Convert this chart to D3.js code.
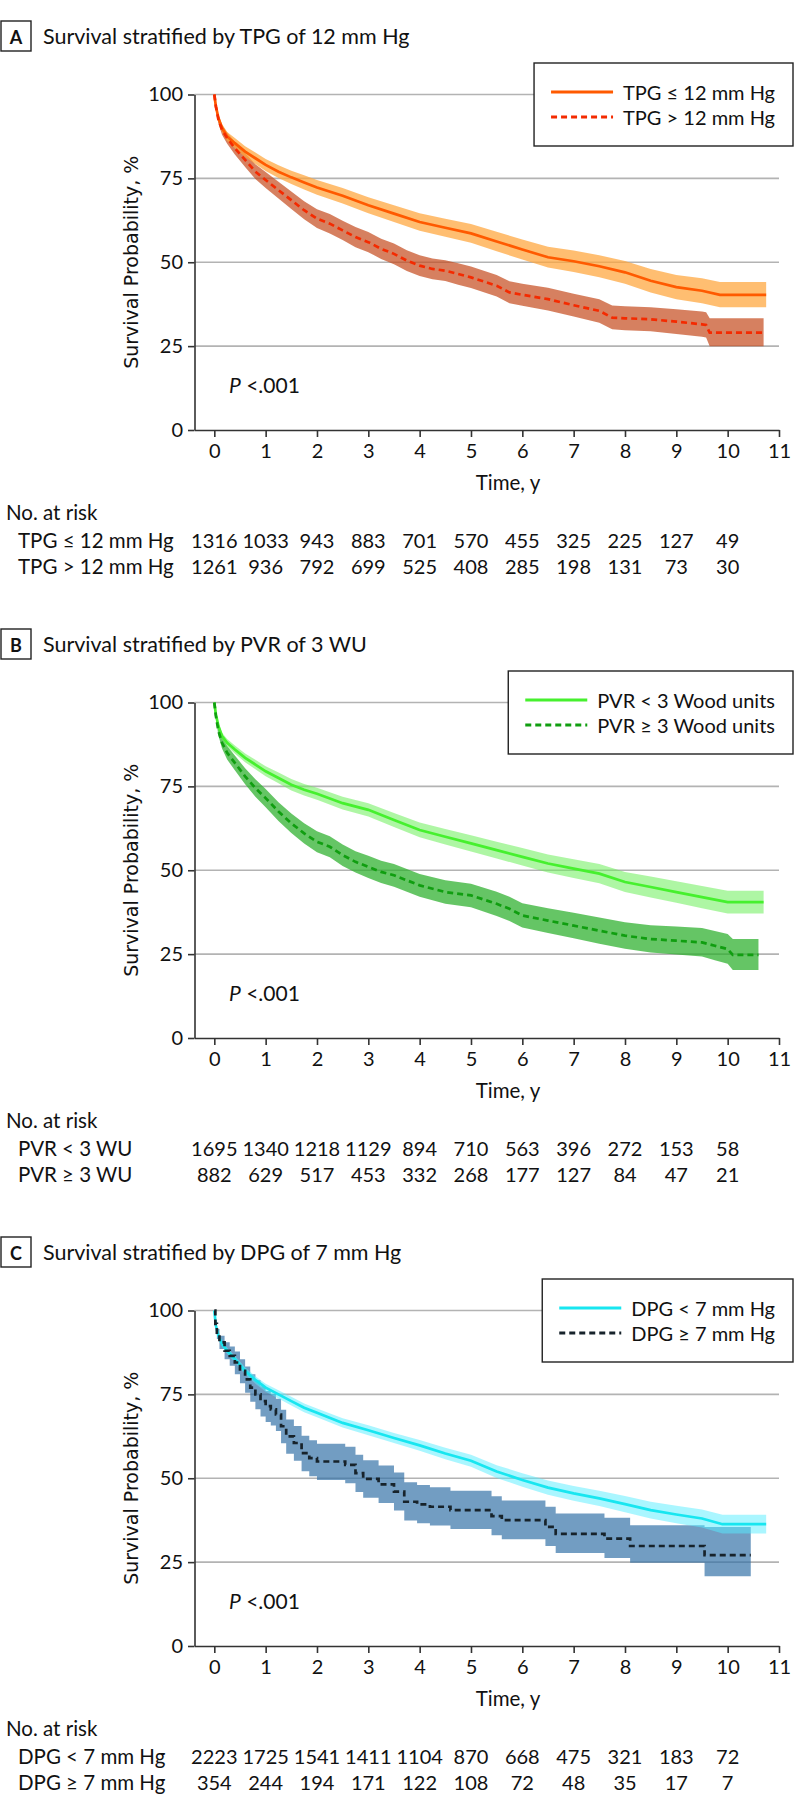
<!DOCTYPE html>
<html><head><meta charset="utf-8">
<script src="https://cdn.jsdelivr.net/npm/d3@7"></script>
<style>
body{margin:0;background:#fff}
svg{display:block}
text{fill:#111}
</style>
</head><body>
<svg id="chart" width="794" height="1812"></svg>
<script>
// ---------- DATA ----------
const xTicks = [0,1,2,3,4,5,6,7,8,9,10,11];
const yTicks = [0,25,50,75,100];
const riskTimes = [0,1,2,3,4,5,6,7,8,9,10];

const panelLetters = ["A","B","C"];
const panelTitles = [
  "Survival stratified by TPG of 12 mm Hg",
  "Survival stratified by PVR of 3 WU",
  "Survival stratified by DPG of 7 mm Hg"
];
const legendLabels = [
  ["TPG \u2264 12 mm Hg","TPG > 12 mm Hg"],
  ["PVR < 3 Wood units","PVR \u2265 3 Wood units"],
  ["DPG < 7 mm Hg","DPG \u2265 7 mm Hg"]
];
const riskLabels = [
  ["TPG \u2264 12 mm Hg","TPG > 12 mm Hg"],
  ["PVR < 3 WU","PVR \u2265 3 WU"],
  ["DPG < 7 mm Hg","DPG \u2265 7 mm Hg"]
];
const riskTPGlow  = [1316,1033,943,883,701,570,455,325,225,127,49];
const riskTPGhigh = [1261,936,792,699,525,408,285,198,131,73,30];
const riskPVRlow  = [1695,1340,1218,1129,894,710,563,396,272,153,58];
const riskPVRhigh = [882,629,517,453,332,268,177,127,84,47,21];
const riskDPGlow  = [2223,1725,1541,1411,1104,870,668,475,321,183,72];
const riskDPGhigh = [354,244,194,171,122,108,72,48,35,17,7];
const pValues = ["<.001","<.001","<.001"];

// [time (y), survival %, lower CI %, upper CI %]
const kmTPGlow = [
[0,100,100,100],[0.03,96.5,95.8,97.2],[0.08,93,92,94],[0.15,90,88.8,91.2],[0.25,87.5,86.2,88.8],
[0.4,85.5,84,87],[0.6,83,81.4,84.6],[0.8,81,79.3,82.7],[1.0,79,77.2,80.8],[1.25,77,75.1,78.9],
[1.5,75.3,73.3,77.3],[1.75,73.8,71.7,75.9],[2.0,72.3,70.1,74.5],[2.5,69.8,67.5,72.1],[3.0,67,64.6,69.4],
[3.5,64.5,62,67],[4.0,62,59.4,64.6],[4.5,60.3,57.6,63],[5.0,58.6,55.8,61.4],[5.5,56.2,53.3,59.1],
[6.0,53.8,50.8,56.8],[6.5,51.5,48.4,54.6],[7.0,50.3,47.1,53.5],[7.5,48.8,45.5,52.1],[8.0,47,43.6,50.4],
[8.5,44.5,41,48],[9.0,42.6,39,46.2],[9.5,41.5,37.8,45.2],[9.85,40.3,36.6,44.1],[10.75,40.3,36.6,44.1]
];
const kmTPGhigh = [
[0,100,100,100],[0.03,96.5,95.7,97.3],[0.08,92.5,91.3,93.7],[0.15,89.5,88,91],[0.25,87,85.3,88.7],
[0.4,84,82.1,85.9],[0.6,80.5,78.4,82.6],[0.8,77,74.8,79.2],[1.0,74.5,72.1,76.9],[1.25,71.5,69,74],
[1.5,68.5,65.9,71.1],[1.75,65.5,62.8,68.2],[2.0,63,60.2,65.8],[2.25,61.5,58.6,64.4],[2.5,59.5,56.6,62.4],
[2.75,57.5,54.5,60.5],[3.0,56,53,59],[3.25,54,51,57],[3.5,52.5,49.4,55.6],[3.75,50.5,47.4,53.6],
[4.0,49,45.9,52.1],[4.25,48,44.9,51.1],[4.5,47.5,44.4,50.6],[4.75,46.5,43.3,49.7],[5.0,45.5,42.3,48.7],
[5.5,43,39.8,46.2],[5.75,41,37.8,44.3],[6.0,40.3,37,43.6],[6.5,39,35.6,42.4],[7.0,37.2,33.8,40.6],
[7.5,35.5,32,39],[7.75,33.5,30,37.1],[8.0,33.3,29.7,36.9],[8.5,33,29.4,36.6],[9.0,32.3,28.6,36],
[9.5,31.5,27.8,35.3],[9.58,31.3,27.6,35.1],[9.65,29,25,33.3],[10.7,29,25,33.3]
];
const kmPVRlow = [
[0,100,100,100],[0.03,96.5,95.9,97.1],[0.08,93,92.2,93.8],[0.15,90,89,91],[0.25,88,86.9,89.1],
[0.4,86,84.8,87.2],[0.6,83.5,82.2,84.8],[0.8,81.5,80.1,82.9],[1.0,79.5,78,81],[1.25,77.5,75.9,79.1],
[1.5,75.5,73.8,77.2],[1.75,74,72.3,75.7],[2.0,72.8,71,74.6],[2.5,70,68.1,71.9],[3.0,68,66,70],
[3.5,65,62.9,67.1],[4.0,62,59.8,64.2],[4.5,60,57.7,62.3],[5.0,58,55.6,60.4],[5.5,56,53.5,58.5],
[6.0,54,51.4,56.6],[6.5,52,49.3,54.7],[7.0,50.5,47.7,53.3],[7.5,49,46.1,51.9],[8.0,46.5,43.5,49.5],
[8.5,45,41.9,48.1],[9.0,43.5,40.3,46.7],[9.5,42,38.7,45.3],[10.0,40.5,37.1,43.9],[10.7,40.5,37.1,43.9]
];
const kmPVRhigh = [
[0,100,100,100],[0.03,96,95.2,96.8],[0.08,91.5,90.2,92.8],[0.15,88,86.3,89.7],[0.25,85,83,87],
[0.4,82,79.8,84.2],[0.6,78,75.6,80.4],[0.8,74.5,71.9,77.1],[1.0,71.5,68.8,74.2],[1.25,67.5,64.7,70.3],
[1.5,64,61.1,66.9],[1.75,61,58,64],[2.0,58.5,55.4,61.6],[2.25,57,53.9,60.1],[2.5,54.5,51.3,57.7],
[2.75,52.5,49.3,55.7],[3.0,51,47.7,54.3],[3.25,49.5,46.2,52.8],[3.5,48.5,45.1,51.9],[3.75,47,43.6,50.4],
[4.0,45.5,42.1,48.9],[4.5,43.5,40,47],[5.0,42.5,39,46],[5.5,40,36.4,43.6],[5.75,38.5,34.9,42.1],
[6.0,36.5,32.9,40.2],[6.5,35,31.3,38.7],[7.0,33.5,29.7,37.3],[7.5,32,28.1,35.9],[8.0,30.5,26.6,34.5],
[8.5,29.5,25.5,33.6],[9.0,29,24.9,33.2],[9.5,28.5,24.3,32.8],[9.75,27.5,23.2,31.9],[10.0,26.5,22.1,31],
[10.1,24.8,20.3,29.5],[10.6,24.8,20.3,29.5]
];
const kmDPGlow = [
[0,100,100,100],[0.03,95.5,95,96],[0.08,92.5,91.8,93.2],[0.15,90,89.2,90.8],[0.25,88,87.1,88.9],
[0.4,85.5,84.5,86.5],[0.6,82,80.9,83.1],[0.8,79.3,78.2,80.4],[1.0,77,75.8,78.2],[1.25,75,73.8,76.2],
[1.5,73,71.7,74.3],[1.75,71,69.7,72.3],[2.0,69.5,68.2,70.8],[2.5,66.5,65.1,67.9],[3.0,64.3,62.8,65.8],
[3.5,62,60.5,63.5],[4.0,59.8,58.2,61.4],[4.5,57.4,55.7,59.1],[5.0,55.2,53.4,57],[5.5,52,50.1,53.9],
[6.0,49.5,47.5,51.5],[6.5,47.2,45.1,49.3],[7.0,45.5,43.3,47.7],[7.5,44,41.7,46.3],[8.0,42.3,39.9,44.7],
[8.5,40.5,38,43],[9.0,39.2,36.6,41.8],[9.5,38,35.3,40.7],[9.9,36.3,33.5,39.1],[10.75,36.3,33.5,39.1]
];
const kmDPGhigh = [
[0,100,100,100],[0.02,96,95,97],[0.05,93,91.5,94.5],[0.1,90.5,88.5,92.5],[0.2,88,85.5,90.5],
[0.3,86.5,83.5,89.3],[0.4,84.5,81,87.8],[0.5,82,78.3,85.5],[0.6,79.5,75.5,83.3],[0.7,77,72.8,81],
[0.8,75,70.6,79.2],[0.9,73,68.4,77.4],[1.0,71.5,66.8,76],[1.1,70.5,65.7,75.1],[1.2,69,64.1,73.7],
[1.3,65.5,60.4,70.4],[1.4,62.5,57.3,67.5],[1.55,60.5,55.2,65.6],[1.7,57.5,52.1,62.7],[1.85,56,50.6,61.3],
[2.0,55,49.5,60.3],[2.55,54,48.5,59.4],[2.75,51.5,45.9,57],[2.9,49.8,44.2,55.4],[3.2,48.2,42.6,53.8],
[3.5,46,40.4,51.7],[3.7,43,37.4,48.8],[3.95,42.2,36.6,48],[4.2,41.5,35.9,47.3],[4.6,40.5,34.9,46.3],
[5.4,38.7,33,44.6],[5.6,37.5,31.8,43.4],[6.45,35.5,29.8,41.5],[6.65,33.4,27.7,39.5],[7.6,32,26.2,38.2],
[8.1,29.8,24.8,36],[9.55,27.1,20.8,35.5],[10.45,27.1,20.8,35.5]
];

// ---------- STYLE / CONFIG ----------
const FONT = "Lato, 'Noto Sans', sans-serif";
const panels = [
  {series:[
    {km:kmTPGhigh, line:"#f42a00", band:"#c44a1c", bandOp:0.7, dash:"6,4", step:false},
    {km:kmTPGlow,  line:"#ff5a00", band:"#ffa53a", bandOp:0.72, dash:null, step:false}],
   risk:[riskTPGlow, riskTPGhigh]},
  {series:[
    {km:kmPVRhigh, line:"#109e10", band:"#2aae2a", bandOp:0.72, dash:"6,4", step:false},
    {km:kmPVRlow,  line:"#46f02e", band:"#6cee5a", bandOp:0.55, dash:null, step:false}],
   risk:[riskPVRlow, riskPVRhigh]},
  {series:[
    {km:kmDPGhigh, line:"#17232b", band:"#2f6fa5", bandOp:0.68, dash:"6,4", step:true},
    {km:kmDPGlow,  line:"#18e6f0", band:"#55eeff", bandOp:0.5, dash:null, step:false}],
   risk:[riskDPGlow, riskDPGhigh]}
];
const panelStep = 608;

const svg = d3.select("#chart").style("font-family", FONT);
const x = d3.scaleLinear().domain([-0.386, 11]).range([194.5, 779]);
const y = d3.scaleLinear().domain([0, 100]).range([430, 94.5]);

panels.forEach((p, i) => {
  const g = svg.append("g").attr("transform", `translate(0,${i*panelStep})`);

  // panel letter box + title
  g.append("rect").attr("x",1).attr("y",21).attr("width",30).attr("height",30)
    .attr("fill","#fff").attr("stroke","#222").attr("stroke-width",1.4);
  g.append("text").attr("x",16).attr("y",43.5).attr("text-anchor","middle")
    .attr("font-weight",700).attr("font-size",18).text(panelLetters[i]);
  g.append("text").attr("x",43).attr("y",44).attr("font-size",21.5).text(panelTitles[i]);

  // gridlines
  g.append("g").selectAll("line").data(yTicks.filter(d => d > 0)).join("line")
    .attr("x1", x.range()[0]).attr("x2", x(11))
    .attr("y1", d => y(d)).attr("y2", d => y(d))
    .attr("stroke","#b3b3b3").attr("stroke-width",1.6);

  // bands
  p.series.forEach(s => {
    const area = d3.area().x(d => x(d[0])).y0(d => y(d[2])).y1(d => y(d[3]))
      .curve(s.step ? d3.curveStepAfter : d3.curveLinear);
    g.append("path").datum(s.km).attr("d", area)
      .attr("fill", s.band).attr("fill-opacity", s.bandOp).attr("stroke","none");
  });
  // lines (solid last on top)
  p.series.slice().reverse().forEach(s => {
    const line = d3.line().x(d => x(d[0])).y(d => y(d[1]))
      .curve(s.step ? d3.curveStepAfter : d3.curveLinear);
    g.append("path").datum(s.km).attr("d", line)
      .attr("fill","none").attr("stroke", s.line).attr("stroke-width", 2.7)
      .attr("stroke-dasharray", s.dash);
  });

  // axes
  const ax = g.append("g").attr("transform", `translate(0,${y(0)})`)
    .call(d3.axisBottom(x).tickValues(xTicks).tickSize(7).tickSizeOuter(0).tickPadding(7));
  const ay = g.append("g").attr("transform", `translate(${x.range()[0]},0)`)
    .call(d3.axisLeft(y).tickValues(yTicks).tickSize(6.5).tickSizeOuter(0).tickPadding(5));
  [ax, ay].forEach(a => {
    a.attr("font-family", null);
    a.select(".domain").attr("stroke","#333").attr("stroke-width",1.6);
    a.selectAll(".tick line").attr("stroke","#333").attr("stroke-width",1.6);
    a.selectAll(".tick text").attr("font-size",20).style("font-family", FONT).attr("fill","#111");
  });

  // axis titles
  g.append("text").attr("x",508).attr("y",490).attr("text-anchor","middle")
    .attr("font-size",20.5).text("Time, y");
  g.append("text").attr("transform", `translate(138,${(y(0)+y(100))/2}) rotate(-90)`)
    .attr("text-anchor","middle").style("font-family","'DejaVu Sans', sans-serif")
    .attr("font-size",19).text("Survival Probability, %");

  // P value
  const pt = g.append("text").attr("x",229).attr("y",393).attr("font-size",21);
  pt.append("tspan").attr("font-style","italic").text("P");
  pt.append("tspan").text(" " + pValues[i]);

  // legend
  const lg = g.append("g");
  const texts = legendLabels[i].map((t, k) =>
    lg.append("text").attr("y", 63 + 37 + k*25).attr("font-size",20).text(t));
  const tw = d3.max(texts, t => t.node().getComputedTextLength());
  const boxW = 89 + tw + 18, boxR = 793, boxL = boxR - boxW;
  lg.insert("rect", ":first-child").attr("x", boxL).attr("y", 63).attr("width", boxW).attr("height", 83)
    .attr("fill","#fff").attr("stroke","#222").attr("stroke-width",1.4);
  texts.forEach(t => t.attr("x", boxL + 89));
  [p.series[1], p.series[0]].forEach((s, k) => {
    lg.append("line").attr("x1", boxL + 17).attr("x2", boxL + 79)
      .attr("y1", 63 + 29 + k*25).attr("y2", 63 + 29 + k*25)
      .attr("stroke", s.line).attr("stroke-width", 3).attr("stroke-dasharray", s.dash);
  });

  // number at risk
  g.append("text").attr("x",6).attr("y",520).attr("font-size",20.5).text("No. at risk");
  p.risk.forEach((vals, k) => {
    const yy = 548 + k*26;
    g.append("text").attr("x",18).attr("y",yy).attr("font-size",20.5).text(riskLabels[i][k]);
    g.append("g").selectAll("text").data(vals).join("text")
      .attr("x", (d, j) => x(riskTimes[j])).attr("y", yy)
      .attr("text-anchor","middle").attr("font-size",20).text(d => d);
  });
});
</script>
</body></html>
